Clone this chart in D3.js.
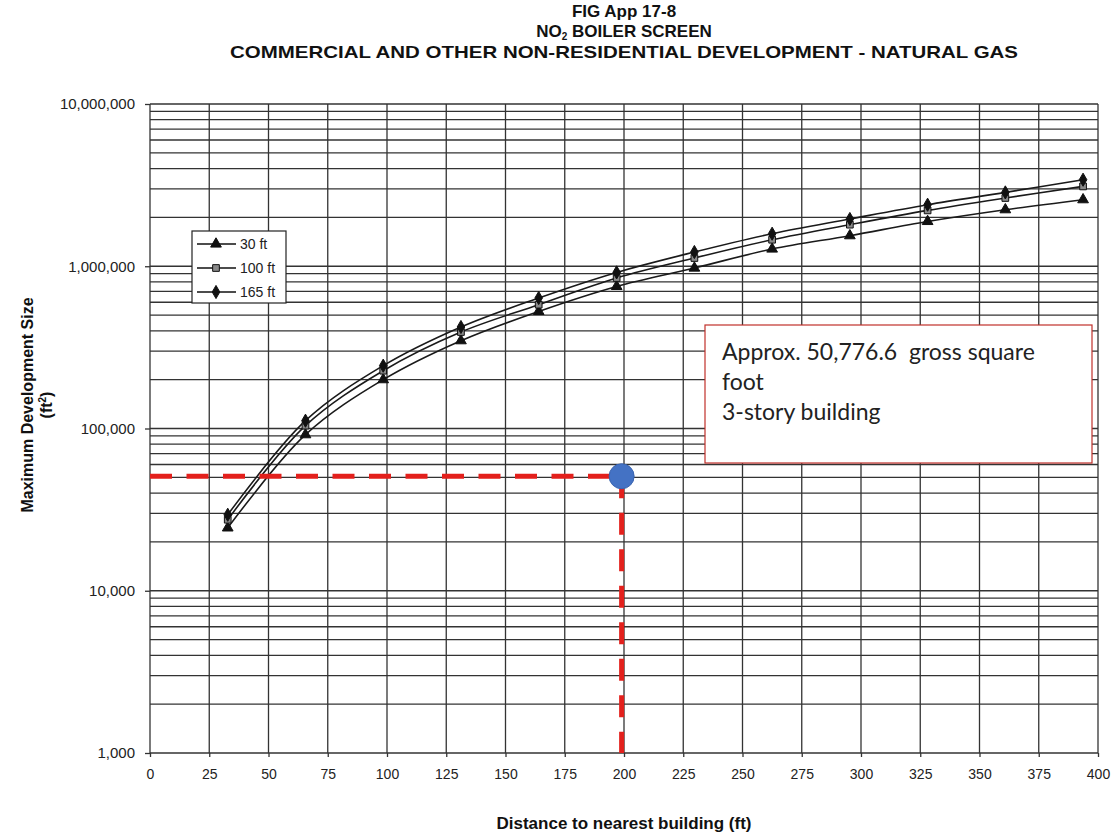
<!DOCTYPE html>
<html>
<head>
<meta charset="utf-8">
<script src="https://cdn.jsdelivr.net/npm/d3@7"></script>
<style>
  body { margin: 0; background: #fff; }
  svg { display: block; }
</style>
</head>
<body>
<div id="chart"></div>
<script>
// distances in feet (10 m steps) and max development size per stack height
var distances = [32.8, 65.6, 98.4, 131.2, 164.0, 196.9, 229.7, 262.5, 295.3, 328.1, 360.9, 393.7];
var size30  = [24400, 91600, 200000, 347600, 526800, 751000, 975000, 1277000, 1543000, 1889000, 2231000, 2572000];
var size100 = [27400, 104100, 227100, 393300, 579400, 846300, 1124000, 1457000, 1804000, 2209000, 2634000, 3105000];
var size165 = [29400, 111700, 243900, 422300, 637400, 916400, 1224000, 1587000, 1956000, 2395000, 2852000, 3415000];

var seriesNames = ["30 ft", "100 ft", "165 ft"];
var xTicks = d3.range(0, 401, 25);
var yTicks = [1000, 10000, 100000, 1000000, 10000000];

// the highlighted project
var pointX = 199;
var pointY = 50776.6;
var noteLines = ["Approx. 50,776.6  gross square", "foot", "3-story building"];

var width = 1120, height = 833;
var margin = { top: 104, right: 22, bottom: 80, left: 150 };

var svg = d3.select("#chart").append("svg")
    .attr("width", width)
    .attr("height", height)
    .style("background", "white");

var x = d3.scaleLinear().domain([0, 400]).range([margin.left, width - margin.right]);
var y = d3.scaleLog().domain([1000, 10000000]).range([height - margin.bottom, margin.top]);

// grid: every 25 ft, log minor lines
var yGrid = [];
[1000, 10000, 100000, 1000000].forEach(d => {
    for (var k = 1; k < 10; k++) yGrid.push(d * k);
});
yGrid.push(10000000);

var grid = svg.append("g").attr("stroke", "#333").attr("stroke-width", 1.3);
grid.selectAll(".hg").data(yGrid).enter().append("line")
    .attr("x1", x(0)).attr("x2", x(400))
    .attr("y1", d => y(d)).attr("y2", d => y(d));
grid.selectAll(".vg").data(xTicks).enter().append("line")
    .attr("x1", d => x(d)).attr("x2", d => x(d))
    .attr("y1", y(1000)).attr("y2", y(10000000));

// axes
var fontAxis = "'Liberation Sans', Arial, sans-serif";
svg.append("g")
    .attr("transform", `translate(${x(0)},0)`)
    .call(d3.axisLeft(y).tickValues(yTicks).tickFormat(d3.format(",")).tickSize(5).tickPadding(10))
    .call(g => g.select(".domain").remove())
    .call(g => g.selectAll("line").attr("stroke", "#333").attr("stroke-width", 1.3))
    .call(g => g.selectAll("text").style("font-family", fontAxis).style("font-size", "15px").attr("fill", "#222"));

svg.append("g")
    .attr("transform", `translate(0,${y(1000)})`)
    .call(d3.axisBottom(x).tickValues(xTicks).tickSize(4).tickPadding(12))
    .call(g => g.select(".domain").remove())
    .call(g => g.selectAll("line").attr("stroke", "#333").attr("stroke-width", 1.3))
    .call(g => g.selectAll("text").style("font-family", fontAxis).style("font-size", "14px").attr("fill", "#222"));

// titles
var cx = (x(0) + x(400)) / 2;
var title = svg.append("g").attr("text-anchor", "middle")
    .style("font-family", fontAxis).style("font-weight", "bold").style("font-size", "17px").attr("fill", "#111");
title.append("text").attr("x", cx).attr("y", 17).text("FIG App 17-8");
var t2 = title.append("text").attr("x", cx).attr("y", 37);
t2.append("tspan").text("NO");
t2.append("tspan").attr("dy", 3).style("font-size", "10px").text("2");
t2.append("tspan").attr("dy", -3).text(" BOILER SCREEN");
title.append("text").attr("x", cx).attr("y", 58)
    .attr("textLength", 788).attr("lengthAdjust", "spacingAndGlyphs")
    .text("COMMERCIAL AND OTHER NON-RESIDENTIAL DEVELOPMENT - NATURAL GAS");

svg.append("text")
    .attr("x", cx).attr("y", 829)
    .attr("text-anchor", "middle")
    .style("font-family", fontAxis).style("font-weight", "bold").style("font-size", "17px")
    .attr("fill", "#111")
    .text("Distance to nearest building (ft)");

var yt = svg.append("g").attr("transform", "translate(33,405) rotate(-90)")
    .attr("text-anchor", "middle")
    .style("font-family", fontAxis).style("font-weight", "bold").style("font-size", "16px").attr("fill", "#111");
yt.append("text").attr("y", 0).text("Maximum Development Size");
var ft = yt.append("text").attr("y", 19);
ft.append("tspan").text("(ft");
ft.append("tspan").attr("dy", -6).style("font-size", "10px").text("2");
ft.append("tspan").attr("dy", 6).text(")");

// series
var series = [
    { name: seriesNames[0], values: size30, symbol: d3.symbolTriangle, fill: "#111", size: 50 },
    { name: seriesNames[1], values: size100, symbol: d3.symbolSquare, fill: "#8a8a8a", size: 45 },
    { name: seriesNames[2], values: size165, symbol: d3.symbolDiamond, fill: "#111", size: 50 }
];

var line = d3.line()
    .x((d, i) => x(distances[i]))
    .y(d => y(d))
    .curve(d3.curveCatmullRom.alpha(0.5));

series.forEach(s => {
    svg.append("path")
        .datum(s.values)
        .attr("fill", "none")
        .attr("stroke", "#1a1a1a")
        .attr("stroke-width", 1.6)
        .attr("d", line);
});
series.forEach(s => {
    svg.append("g").selectAll("path")
        .data(s.values)
        .enter().append("path")
        .attr("transform", (d, i) => `translate(${x(distances[i])},${y(d)})`)
        .attr("d", d3.symbol().type(s.symbol).size(s.size))
        .attr("fill", s.fill)
        .attr("stroke", "#111")
        .attr("stroke-width", 1);
});

// legend
var legend = svg.append("g").attr("transform", "translate(192,231)");
legend.append("rect")
    .attr("width", 94).attr("height", 72)
    .attr("fill", "white").attr("stroke", "#222").attr("stroke-width", 1.2);
series.forEach((s, i) => {
    var row = legend.append("g").attr("transform", `translate(0,${13 + i * 24})`);
    row.append("line").attr("x1", 5).attr("x2", 44).attr("stroke", "#111").attr("stroke-width", 1.6);
    row.append("path")
        .attr("transform", "translate(24,0)")
        .attr("d", d3.symbol().type(s.symbol).size(s.size))
        .attr("fill", s.fill).attr("stroke", "#111");
    row.append("text").attr("x", 48).attr("dy", "0.35em")
        .style("font-family", fontAxis).style("font-size", "14px").attr("fill", "#222")
        .text(s.name);
});

// annotation: dashed guide lines and marker
var guides = svg.append("g")
    .attr("stroke", "#e3201c").attr("stroke-width", 5).attr("stroke-dasharray", "22,14.5");
guides.append("line")
    .attr("x1", x(0)).attr("x2", x(pointX))
    .attr("y1", y(pointY)).attr("y2", y(pointY));
guides.append("line")
    .attr("x1", x(pointX)).attr("x2", x(pointX))
    .attr("y1", y(pointY)).attr("y2", y(1000));
svg.append("circle")
    .attr("cx", x(pointX)).attr("cy", y(pointY)).attr("r", 12.5)
    .attr("fill", "#4472c4").attr("stroke", "#3a64b0").attr("stroke-width", 1);

// note box
var note = svg.append("g").attr("transform", "translate(705,325)");
note.append("rect")
    .attr("width", 387).attr("height", 138)
    .attr("fill", "white").attr("stroke", "#c0302a").attr("stroke-width", 1.2);
note.selectAll("text").data(noteLines).enter().append("text")
    .attr("x", 17).attr("y", (d, i) => 35 + i * 30)
    .style("font-family", "Lato, 'Open Sans', sans-serif").style("font-size", "23px")
    .attr("fill", "#222")
    .style("white-space", "pre")
    .text(d => d);
</script>
</body>
</html>
